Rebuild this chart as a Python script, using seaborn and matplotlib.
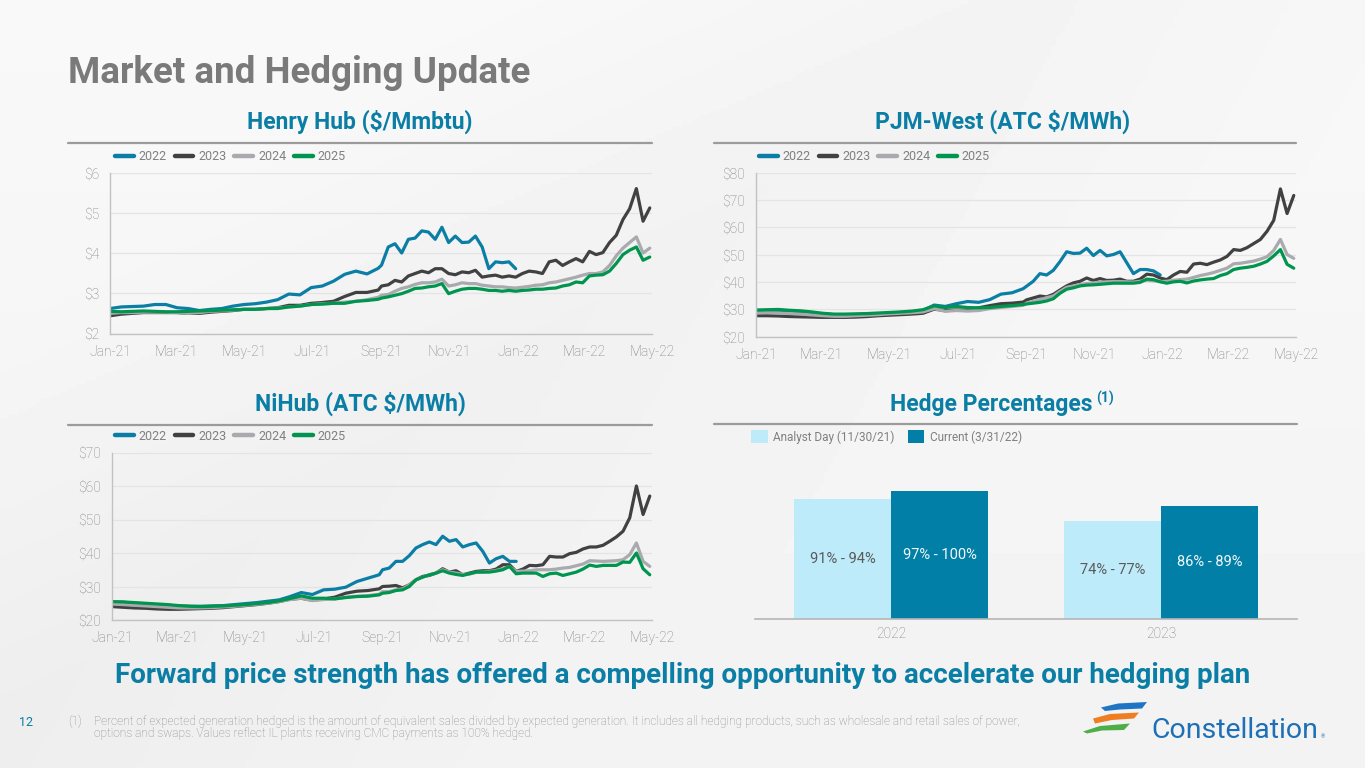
import numpy as np
import pandas as pd
import matplotlib
matplotlib.use("Agg")
import matplotlib.pyplot as plt
import matplotlib.dates as mdates
from matplotlib.lines import Line2D
from matplotlib.patches import Polygon, Patch
from matplotlib.ticker import FuncFormatter
import seaborn as sns

sns.set_theme(style="white")
plt.rcParams['font.family'] = ['Roboto', 'DejaVu Sans']

# ---------------- data ----------------
LEFT_DATES = pd.date_range("2021-01-01", periods=25, freq="10D")
RIGHT_DATES = pd.date_range("2021-09-01", periods=41, freq="6D")
DATES = LEFT_DATES.append(RIGHT_DATES)
YEARS = ["2022", "2023", "2024", "2025"]

HH_2022 = [2.62, 2.66, 2.67, 2.68, 2.72, 2.72, 2.64, 2.62, 2.57, 2.60, 2.62, 2.68, 2.72, 2.74, 2.78, 2.84, 2.98, 2.96, 3.14, 3.18, 3.30, 3.47, 3.55, 3.48, 3.62,
           3.70, 4.15, 4.23, 4.00, 4.34, 4.37, 4.55, 4.52, 4.34, 4.64, 4.26, 4.42, 4.26, 4.27, 4.42, 4.15, 3.61, 3.78, 3.76, 3.78, 3.61]
HH_2023 = [2.44, 2.48, 2.50, 2.52, 2.52, 2.52, 2.52, 2.50, 2.50, 2.53, 2.55, 2.57, 2.60, 2.60, 2.62, 2.64, 2.70, 2.70, 2.75, 2.77, 2.80, 2.92, 3.02, 3.02, 3.08,
           3.18, 3.21, 3.32, 3.28, 3.43, 3.49, 3.55, 3.51, 3.61, 3.61, 3.49, 3.46, 3.53, 3.51, 3.57, 3.40, 3.43, 3.45, 3.40, 3.43, 3.40,
           3.49, 3.55, 3.53, 3.49, 3.78, 3.82, 3.69, 3.78, 3.86, 3.78, 4.04, 3.96, 4.01, 4.26, 4.44, 4.83, 5.10, 5.60, 4.79, 5.12]
HH_2024 = [2.50, 2.52, 2.52, 2.53, 2.53, 2.53, 2.52, 2.50, 2.52, 2.55, 2.56, 2.58, 2.60, 2.60, 2.62, 2.63, 2.66, 2.68, 2.72, 2.74, 2.75, 2.78, 2.80, 2.84, 2.90,
           2.95, 2.97, 3.05, 3.12, 3.16, 3.22, 3.26, 3.26, 3.28, 3.35, 3.18, 3.21, 3.26, 3.24, 3.24, 3.20, 3.18, 3.16, 3.16, 3.14, 3.13,
           3.15, 3.17, 3.20, 3.21, 3.26, 3.28, 3.32, 3.36, 3.40, 3.45, 3.49, 3.49, 3.53, 3.69, 3.93, 4.12, 4.26, 4.40, 4.00, 4.12]
HH_2025 = [2.55, 2.54, 2.55, 2.56, 2.55, 2.54, 2.54, 2.55, 2.56, 2.57, 2.58, 2.59, 2.60, 2.60, 2.62, 2.62, 2.66, 2.68, 2.72, 2.73, 2.75, 2.75, 2.80, 2.82, 2.85,
           2.88, 2.91, 2.95, 2.99, 3.05, 3.12, 3.13, 3.16, 3.18, 3.24, 2.99, 3.05, 3.10, 3.12, 3.12, 3.10, 3.07, 3.07, 3.05, 3.07, 3.05,
           3.07, 3.08, 3.10, 3.10, 3.12, 3.13, 3.18, 3.21, 3.28, 3.26, 3.43, 3.45, 3.46, 3.55, 3.74, 3.96, 4.07, 4.15, 3.82, 3.90]

PJM_2022 = [29.3, 29.5, 29.5, 29.3, 29.0, 28.6, 28.2, 28.0, 28.0, 28.0, 28.2, 28.3, 28.5, 28.8, 29.0, 29.5, 31.5, 31.0, 32.0, 32.8, 32.5, 33.5, 35.5, 36.0, 37.5,
            38.4, 40.2, 43.0, 42.5, 44.2, 47.4, 51.0, 50.4, 50.5, 52.3, 49.6, 51.5, 49.5, 50.0, 51.0, 47.0, 43.0, 44.5, 44.5, 44.0, 42.5]
PJM_2023 = [27.6, 27.6, 27.5, 27.3, 27.2, 27.1, 27.0, 27.0, 27.0, 27.1, 27.3, 27.6, 27.8, 28.0, 28.2, 28.5, 30.0, 29.5, 29.7, 29.6, 30.5, 31.3, 32.0, 32.2, 32.6,
            33.4, 34.1, 34.8, 34.5, 35.4, 37.0, 38.5, 39.6, 40.2, 41.4, 40.5, 41.2, 40.5, 40.6, 41.0, 40.2, 40.2, 41.0, 42.8, 42.5, 41.4,
            40.8, 42.5, 43.8, 43.5, 46.5, 46.8, 46.3, 47.2, 48.0, 49.3, 51.8, 51.5, 52.5, 54.0, 55.5, 58.5, 62.5, 74.0, 65.0, 71.6]
PJM_2024 = [28.6, 28.7, 28.6, 28.4, 28.2, 27.9, 27.6, 27.4, 27.4, 27.6, 27.8, 28.0, 28.3, 28.5, 28.7, 29.0, 30.2, 29.2, 29.5, 29.3, 29.5, 30.2, 30.6, 31.0, 31.4,
            32.2, 32.8, 33.5, 34.2, 34.8, 36.5, 38.0, 38.5, 39.0, 39.4, 39.6, 39.9, 40.0, 40.1, 40.1, 40.0, 39.9, 40.2, 40.6, 40.4, 40.1,
            40.2, 40.6, 40.8, 41.0, 41.6, 42.3, 42.8, 43.4, 44.2, 45.0, 46.6, 46.8, 47.2, 47.6, 48.3, 49.2, 51.5, 55.5, 50.0, 48.6]
PJM_2025 = [29.7, 29.8, 29.9, 29.6, 29.4, 29.0, 28.5, 28.2, 28.2, 28.3, 28.4, 28.6, 28.8, 29.0, 29.3, 29.8, 31.2, 30.6, 31.0, 30.6, 30.5, 30.6, 31.0, 31.3, 31.7,
            31.9, 32.2, 32.5, 33.0, 33.8, 35.8, 37.3, 37.8, 38.5, 38.8, 38.9, 39.1, 39.3, 39.5, 39.5, 39.5, 39.5, 39.8, 41.0, 40.8, 40.0,
            39.5, 40.0, 40.2, 39.6, 40.3, 40.7, 41.0, 41.2, 42.3, 43.0, 44.5, 45.0, 45.3, 45.7, 46.5, 47.5, 49.5, 51.8, 46.4, 45.0]

NI_2022 = [25.3, 25.3, 25.0, 24.8, 24.6, 24.4, 24.2, 24.1, 24.1, 24.2, 24.3, 24.6, 24.9, 25.2, 25.6, 26.0, 27.0, 28.2, 27.6, 29.0, 29.2, 29.8, 31.5, 32.5, 33.5,
           35.0, 35.5, 37.5, 37.5, 39.2, 41.5, 42.5, 43.3, 42.5, 45.0, 43.5, 44.0, 41.8, 42.5, 43.0, 40.5, 37.0, 38.3, 39.0, 37.5, 37.5]
NI_2023 = [24.0, 23.8, 23.6, 23.5, 23.3, 23.2, 23.2, 23.3, 23.4, 23.5, 23.7, 24.0, 24.3, 24.6, 25.0, 25.5, 26.2, 26.5, 25.9, 26.3, 26.8, 28.0, 28.6, 28.8, 29.3,
           30.0, 30.1, 30.3, 29.6, 30.5, 32.0, 33.0, 33.3, 34.0, 35.3, 34.3, 34.7, 33.5, 34.0, 34.5, 34.7, 34.7, 35.2, 36.5, 36.5, 34.5,
           35.2, 36.3, 36.2, 36.5, 39.0, 38.8, 38.8, 39.8, 40.2, 41.2, 41.8, 41.8, 42.3, 43.5, 44.8, 46.5, 50.5, 60.0, 51.5, 57.0]
NI_2024 = [24.8, 24.6, 24.4, 24.2, 24.0, 23.8, 23.6, 23.6, 23.6, 23.7, 23.9, 24.1, 24.4, 24.7, 25.0, 25.5, 26.1, 26.5, 25.8, 26.1, 26.3, 26.8, 27.1, 27.3, 27.7,
           28.5, 28.5, 29.0, 29.3, 30.5, 32.0, 32.8, 33.5, 34.0, 35.0, 34.3, 34.0, 33.6, 33.7, 34.2, 34.3, 34.5, 34.8, 35.3, 36.0, 34.5,
           34.6, 34.7, 35.0, 35.0, 35.0, 35.2, 35.5, 35.7, 36.2, 36.7, 37.7, 37.6, 37.5, 37.6, 37.7, 38.0, 39.5, 43.0, 37.5, 36.0]
NI_2025 = [25.5, 25.4, 25.2, 25.0, 24.8, 24.6, 24.3, 24.1, 24.0, 24.1, 24.2, 24.4, 24.6, 24.9, 25.2, 25.7, 26.4, 27.2, 26.5, 26.5, 26.3, 26.7, 27.0, 27.1, 27.5,
           28.0, 28.2, 28.8, 29.0, 30.0, 32.0, 32.8, 33.5, 34.0, 34.7, 34.0, 33.6, 33.3, 33.8, 34.3, 34.3, 34.3, 34.6, 35.0, 36.0, 33.8,
           34.0, 34.0, 34.0, 33.0, 33.8, 34.0, 33.3, 33.8, 34.3, 35.2, 36.4, 36.0, 36.3, 36.3, 36.3, 37.3, 37.2, 40.0, 35.3, 33.5]

HH_TICKS = [2, 3, 4, 5, 6]
PJM_TICKS = [20, 30, 40, 50, 60, 70, 80]
NI_TICKS = [20, 30, 40, 50, 60, 70]

HEDGE_YEARS = ["2022", "2023"]
HEDGE_SERIES = ["Analyst Day (11/30/21)", "Current (3/31/22)"]
ANALYST_MID = [92.5, 75.5]
CURRENT_MID = [98.5, 87.5]
ANALYST_LABELS = ["91% - 94%", "74% - 77%"]
CURRENT_LABELS = ["97% - 100%", "86% - 89%"]

# ---------------- styling ----------------
PALETTE = {"2022": "#0b7ea5", "2023": "#414141", "2024": "#a8aaad", "2025": "#00954e"}
TEAL = "#0b7ea5"
GRAY_TXT = "#808080"
AX_GRAY = "#c2c2c2"
LIGHT_BAR = "#bdebfa"
DARK_BAR = "#027fa6"

W, H = 1365, 768
fig = plt.figure(figsize=(W / 100, H / 100), dpi=100)


def fx(px):
    return px / W


def fy(py):
    return 1 - py / H


# background
bg = fig.add_axes([0, 0, 1, 1], zorder=-10)
gx, gy = np.meshgrid(np.linspace(0, 1, 300), np.linspace(0, 1, 200))
shade = 0.975 - 0.025 * gy - 0.02 * np.clip(1 - np.abs((gx + 0.8 * gy) - 0.75) * 2.5, 0, 1)
bg.imshow(shade, cmap="gray", vmin=0, vmax=1, extent=[0, 1, 0, 1], aspect="auto", origin="upper")
bg.axis("off")


def long_df(series):
    rows = []
    for yr, vals in zip(YEARS, series):
        rows.append(pd.DataFrame({"date": DATES[:len(vals)], "value": vals, "year": yr}))
    return pd.concat(rows, ignore_index=True)


def line_panel(rect_px, series, ylim, yticks, legend_xy):
    l, t, r, b = rect_px
    ax = fig.add_axes([fx(l), fy(b), fx(r - l), (b - t) / H])
    ax.patch.set_alpha(0)
    df = long_df(series)
    sns.lineplot(data=df, x="date", y="value", hue="year", hue_order=YEARS, palette=PALETTE,
                 estimator=None, linewidth=2.3, ax=ax, legend=False)
    ax.set_xlim(pd.Timestamp("2021-01-01"), pd.Timestamp("2022-05-01"))
    ax.set_ylim(*ylim)
    ax.set_yticks(yticks)
    ax.yaxis.set_major_formatter(FuncFormatter(lambda v, p: "$%d" % v))
    ax.xaxis.set_major_locator(mdates.MonthLocator(bymonth=[1, 3, 5, 7, 9, 11]))
    ax.xaxis.set_major_formatter(mdates.DateFormatter("%b-%y"))
    ax.set_xlabel("")
    ax.set_ylabel("")
    ax.yaxis.grid(True, color="#e4e4e4", lw=0.9)
    ax.xaxis.grid(False)
    for s in ["top", "right"]:
        ax.spines[s].set_visible(False)
    for s in ["left", "bottom"]:
        ax.spines[s].set_color(AX_GRAY)
        ax.spines[s].set_linewidth(1.0)
    ax.tick_params(axis="both", colors=AX_GRAY, labelcolor=GRAY_TXT, labelsize=10,
                   length=4, width=0.9, direction="out", pad=4)
    for lab in ax.get_xticklabels() + ax.get_yticklabels():
        lab.set_fontweight("light")
    handles = [Line2D([0], [0], color=PALETTE[y], lw=3.2) for y in YEARS]
    ax.legend(handles, YEARS, ncol=4, loc="center left", bbox_to_anchor=(fx(legend_xy[0]), fy(legend_xy[1])),
              bbox_transform=fig.transFigure, frameon=False, fontsize=9, labelcolor=GRAY_TXT,
              handlelength=1.5, handletextpad=0.4, columnspacing=0.62, borderpad=0, borderaxespad=0)
    return ax


line_panel((110, 172.5, 652, 333.5), [HH_2022, HH_2023, HH_2024, HH_2025], (2, 6), HH_TICKS, (115, 157))
line_panel((756, 172.5, 1296, 336.5), [PJM_2022, PJM_2023, PJM_2024, PJM_2025], (20, 80), PJM_TICKS, (759, 157))
line_panel((112, 452.5, 652, 620), [NI_2022, NI_2023, NI_2024, NI_2025], (20, 70), NI_TICKS, (115, 436))

# ---------------- hedge bars ----------------
axh = fig.add_axes([fx(755), fy(619), fx(1297 - 755), (619 - 476.5) / H])
axh.patch.set_alpha(0)
df_h = pd.DataFrame({
    "year": HEDGE_YEARS * 2,
    "series": [HEDGE_SERIES[0]] * 2 + [HEDGE_SERIES[1]] * 2,
    "value": ANALYST_MID + CURRENT_MID,
})
sns.barplot(data=df_h, x="year", y="value", hue="series", hue_order=HEDGE_SERIES,
            palette=[LIGHT_BAR, DARK_BAR], width=0.72, gap=0, saturation=1,
            errorbar=None, ax=axh, legend=False, linewidth=0, edgecolor="none")
axh.set_xlim(-0.504, 1.504)
axh.set_ylim(0, 110)
axh.set_xlabel("")
axh.set_ylabel("")
axh.set_yticks([])
for s in ["top", "right", "left"]:
    axh.spines[s].set_visible(False)
axh.spines["bottom"].set_color("#b5b5b5")
axh.spines["bottom"].set_linewidth(1.2)
axh.tick_params(axis="x", length=0, labelcolor=GRAY_TXT, labelsize=10, pad=6)
for lab in axh.get_xticklabels():
    lab.set_fontweight("light")
axh.bar_label(axh.containers[0], labels=ANALYST_LABELS, label_type="center", color="#5a5a5a", fontsize=10.5)
axh.bar_label(axh.containers[1], labels=CURRENT_LABELS, label_type="center", color="#f2f8fb", fontsize=10.5)
hh = [Patch(facecolor=LIGHT_BAR, edgecolor="none"), Patch(facecolor=DARK_BAR, edgecolor="none")]
axh.legend(hh, HEDGE_SERIES, ncol=2, loc="center left", bbox_to_anchor=(fx(751), fy(437)),
           bbox_transform=fig.transFigure, frameon=False, fontsize=8.5, labelcolor=GRAY_TXT,
           handlelength=1.4, handleheight=1.3, handletextpad=0.5, columnspacing=1.1,
           borderpad=0, borderaxespad=0)

# ---------------- titles and rules ----------------
fig.text(fx(68), fy(73), "Market and Hedging Update", ha="left", va="center",
         color="#7a7a7a", fontsize=26.5, fontweight="bold")

for (cx, cy, txt) in [(360, 122, "Henry Hub ($/Mmbtu)"), (1003, 122, "PJM-West (ATC $/MWh)"),
                      (360, 404, "NiHub (ATC $/MWh)")]:
    fig.text(fx(cx), fy(cy), txt, ha="center", va="center", color=TEAL, fontsize=16.5, fontweight="bold")

hp = fig.text(fx(991), fy(404), "Hedge Percentages", ha="center", va="center", color=TEAL,
              fontsize=16.5, fontweight="bold")
fig.canvas.draw()
bb = hp.get_window_extent()
fig.text(bb.x1 / W + fx(4), fy(398), "(1)", ha="left", va="center", color=TEAL, fontsize=10, fontweight="bold")

for (x0, x1, y) in [(68, 652, 143), (714, 1296, 143), (68, 652, 425), (714, 1297, 424)]:
    fig.add_artist(Line2D([fx(x0), fx(x1)], [fy(y), fy(y)], color="#9b9b9b", lw=1.6))

fig.text(fx(683), fy(683), "Forward price strength has offered a compelling opportunity to accelerate our hedging plan",
         ha="center", va="baseline", color=TEAL, fontsize=20, fontweight="bold")

# footnote
FOOT = "#8a8a8a"
fig.text(fx(26), fy(722), "12", ha="center", va="center", color=TEAL, fontsize=9)
fig.text(fx(68), fy(721), "(1)", ha="left", va="center", color=FOOT, fontsize=8.6, fontweight="light")
fig.text(fx(94), fy(721),
         "Percent of expected generation hedged is the amount of equivalent sales divided by expected generation. "
         "It includes all hedging products, such as wholesale and retail sales of power,",
         ha="left", va="center", color=FOOT, fontsize=8.6, fontweight="light")
fig.text(fx(94), fy(734), "options and swaps. Values reflect IL plants receiving CMC payments as 100% hedged.",
         ha="left", va="center", color=FOOT, fontsize=8.6, fontweight="light")

# logo
def poly(pts, color):
    fig.add_artist(Polygon([(fx(x), fy(y)) for x, y in pts], closed=True, facecolor=color,
                           edgecolor="none", transform=fig.transFigure))

poly([(1101, 707.5), (1118, 703.5), (1147, 702), (1142, 708.5), (1120, 709.5), (1105, 711)], "#1f74c4")
poly([(1093, 718.5), (1110, 714), (1139, 712.5), (1134, 718.5), (1112, 720), (1095, 723.5)], "#ef7d22")
poly([(1083, 731.5), (1100, 726), (1130, 723.5), (1124, 730), (1102, 730.5), (1087, 733.5)], "#4fae47")
fig.text(fx(1151), fy(738), "Constellation", ha="left", va="baseline", color="#1d6fb6", fontsize=20.5)
fig.text(fx(1321), fy(738), "®", ha="left", va="baseline", color="#1d6fb6", fontsize=4)

fig.savefig("out.png", dpi=100)
